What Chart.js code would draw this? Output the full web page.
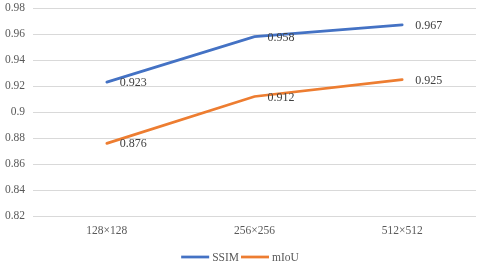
<!DOCTYPE html>
<html lang="en">
<head>
    <meta charset="UTF-8">
    <title>SSIM / mIoU by resolution</title>
    <script src="https://cdn.jsdelivr.net/npm/chart.js@4.4.1/dist/chart.umd.min.js"></script>
    <style>
        html, body {
            margin: 0;
            padding: 0;
            background: #ffffff;
        }
        .wrap {
            width: 480px;
            height: 265px;
        }
    </style>
</head>
<body>
    <div class="wrap">
        <canvas id="chart" width="480" height="265"></canvas>
    </div>

    <script>
        // Data
        const resolutions = ['128×128', '256×256', '512×512'];
        const ssimValues = [0.923, 0.958, 0.967];
        const miouValues = [0.876, 0.912, 0.925];
        const yTicks = [0.82, 0.84, 0.86, 0.88, 0.9, 0.92, 0.94, 0.96, 0.98];

        const serif = "'Liberation Serif', 'DejaVu Serif', serif";

        // Draw the value next to each point, like the Excel data labels
        const valueLabels = {
            id: 'valueLabels',
            afterDatasetsDraw(chart) {
                const ctx = chart.ctx;
                ctx.save();
                ctx.font = '12px ' + serif;
                ctx.fillStyle = '#404040';
                ctx.textAlign = 'left';
                ctx.textBaseline = 'middle';
                chart.data.datasets.forEach((ds, i) => {
                    const meta = chart.getDatasetMeta(i);
                    meta.data.forEach((pt, j) => {
                        ctx.fillText(ds.data[j].toFixed(3), pt.x + 13, pt.y + 1);
                    });
                });
                ctx.restore();
            }
        };

        // Excel-style legend: short line, then the name, centred under the chart
        const lineLegend = {
            id: 'lineLegend',
            afterDraw(chart) {
                const ctx = chart.ctx;
                const lineLen = 28, gapText = 3, gapItem = 2;
                const y = chart.height - 8;
                ctx.save();
                ctx.font = '11.5px ' + serif;
                const items = chart.data.datasets.map(ds => ({
                    ds, w: ctx.measureText(ds.label).width
                }));
                let total = 0;
                items.forEach((it, i) => {
                    total += lineLen + gapText + it.w + (i < items.length - 1 ? gapItem : 0);
                });
                let x = chart.width / 2 - total / 2;
                items.forEach(it => {
                    ctx.strokeStyle = it.ds.borderColor;
                    ctx.lineWidth = 2.75;
                    ctx.lineCap = 'butt';
                    ctx.beginPath();
                    ctx.moveTo(x, y);
                    ctx.lineTo(x + lineLen, y);
                    ctx.stroke();
                    x += lineLen + gapText;
                    ctx.fillStyle = '#595959';
                    ctx.textAlign = 'left';
                    ctx.textBaseline = 'middle';
                    ctx.fillText(it.ds.label, x, y + 1);
                    x += it.w + gapItem;
                });
                ctx.restore();
            }
        };

        new Chart(document.getElementById('chart'), {
            type: 'line',
            data: {
                labels: resolutions,
                datasets: [
                    {
                        label: 'SSIM',
                        data: ssimValues,
                        borderColor: '#4472C4',
                        backgroundColor: '#4472C4',
                        borderWidth: 2.75,
                        borderCapStyle: 'round',
                        pointRadius: 0,
                        tension: 0
                    },
                    {
                        label: 'mIoU',
                        data: miouValues,
                        borderColor: '#ED7D31',
                        backgroundColor: '#ED7D31',
                        borderWidth: 2.75,
                        borderCapStyle: 'round',
                        pointRadius: 0,
                        tension: 0
                    }
                ]
            },
            options: {
                responsive: false,
                animation: false,
                layout: {
                    padding: { left: 5, right: 4, top: 8, bottom: 19 }
                },
                plugins: {
                    tooltip: { enabled: false },
                    legend: { display: false }
                },
                scales: {
                    x: {
                        offset: true,
                        grid: { display: false, drawTicks: false },
                        border: { display: false },
                        ticks: {
                            padding: 8,
                            color: '#595959',
                            font: { family: serif, size: 11.5 }
                        }
                    },
                    y: {
                        min: yTicks[0],
                        max: yTicks[yTicks.length - 1],
                        afterBuildTicks(scale) {
                            scale.ticks = yTicks.map(v => ({ value: v }));
                        },
                        // keep the axis tight like the original (labels end ~8px left of the grid)
                        afterFit(scale) {
                            scale.width = 28;
                            scale.paddingTop = 0;
                            scale.paddingBottom = 0;
                        },
                        grid: { color: '#d9d9d9', lineWidth: 1, drawTicks: false },
                        border: { display: false },
                        ticks: {
                            padding: 8,
                            color: '#595959',
                            font: { family: serif, size: 11.5 },
                            callback: v => String(Number(v.toFixed(2)))
                        }
                    }
                }
            },
            plugins: [valueLabels, lineLegend]
        });
    </script>
</body>
</html>
